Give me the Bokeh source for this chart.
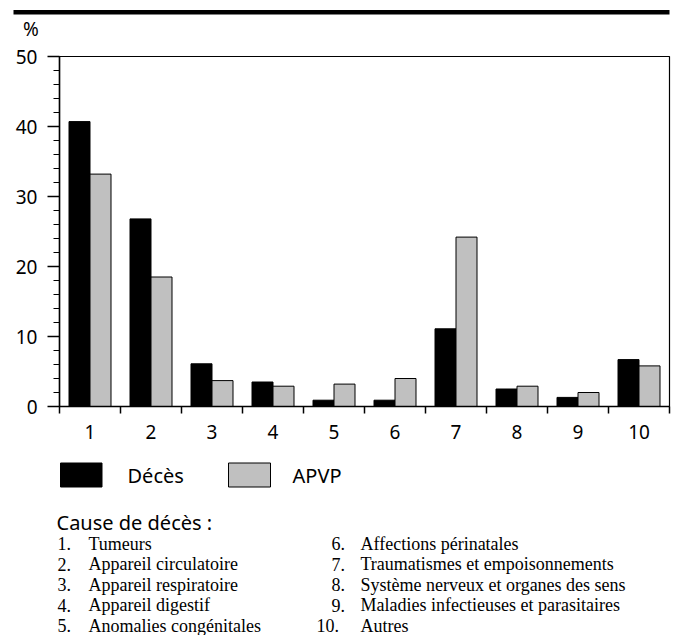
from bokeh.plotting import figure
from bokeh.models import Range1d, FixedTicker, SingleIntervalTicker, LinearAxis, BoxAnnotation
from bokeh.core.properties import value
from bokeh.embed import file_html
from bokeh.resources import INLINE

# ---- data ----
categories = [1, 2, 3, 4, 5, 6, 7, 8, 9, 10]
deces = [40.7, 26.8, 6.1, 3.5, 0.9, 0.9, 11.1, 2.5, 1.3, 6.7]
apvp = [33.2, 18.5, 3.7, 2.9, 3.2, 4.0, 24.2, 2.9, 2.0, 5.8]
series_names = ["Décès", "APVP"]
series_colors = ["black", "#c0c0c0"]
unit_label = "%"
cause_title = "Cause de décès :"
causes = [
    "Tumeurs",
    "Appareil circulatoire",
    "Appareil respiratoire",
    "Appareil digestif",
    "Anomalies congénitales",
    "Affections périnatales",
    "Traumatismes et empoisonnements",
    "Système nerveux et organes des sens",
    "Maladies infectieuses et parasitaires",
    "Autres",
]

W, H = 679, 635
SANS = "Noto Sans"
SERIF = "Liberation Serif"

# plot box in page pixels
FL, FR, FT, FB = 59, 669, 56, 406
X0, X1 = categories[0] - 0.5, categories[-1] + 0.5
Y0, Y1 = 0, 50
XS = (FR - FL) / (X1 - X0)   # px per x unit
YS = (FB - FT) / (Y1 - Y0)   # px per y unit


def dx(px):
    return X0 + (px - FL) / XS


def dy(py):
    return Y0 + (FB - py) / YS


p = figure(width=W, height=H, output_backend="svg", toolbar_location=None,
           x_range=Range1d(dx(0), dx(W)), y_range=Range1d(dy(H), dy(0)),
           min_border=0, x_axis_type=None, y_axis_type=None)
p.background_fill_color = "white"
p.border_fill_color = "white"
p.outline_line_color = None
p.grid.visible = False

# plot box (top and right edges)
p.add_layout(BoxAnnotation(left=X0, right=X1, bottom=Y0, top=Y1,
                           fill_alpha=0, line_color="black", line_alpha=1,
                           line_width=1.2))

yaxis = LinearAxis(ticker=SingleIntervalTicker(interval=10, num_minor_ticks=5),
                   fixed_location=X0, bounds=(Y0, Y1))
yaxis.major_tick_out = 12
yaxis.major_tick_in = 0
yaxis.minor_tick_out = 6
yaxis.minor_tick_in = 0
yaxis.axis_line_width = 1.5
yaxis.major_tick_line_width = 1.5
yaxis.minor_tick_line_width = 1.2
yaxis.major_label_standoff = 10
yaxis.major_label_text_font = SANS
yaxis.major_label_text_font_size = "19px"
yaxis.major_label_text_color = "black"
p.add_layout(yaxis, "left")

xaxis = LinearAxis(ticker=FixedTicker(
    ticks=categories,
    minor_ticks=[c - 0.5 for c in categories] + [categories[-1] + 0.5]),
    fixed_location=Y0, bounds=(X0, X1))
xaxis.major_tick_out = 0
xaxis.major_tick_in = 0
xaxis.major_tick_line_color = None
xaxis.minor_tick_out = 7
xaxis.minor_tick_in = 0
xaxis.minor_tick_line_width = 1.5
xaxis.axis_line_width = 1.5
xaxis.major_label_standoff = 11
xaxis.major_label_text_font = SANS
xaxis.major_label_text_font_size = "19px"
xaxis.major_label_text_color = "black"
p.add_layout(xaxis, "below")

bw = 21.0 / 61.0
p.vbar(x=[c - bw / 2 for c in categories], top=deces, width=bw,
       fill_color=series_colors[0], line_color="black", line_width=1)
p.vbar(x=[c + bw / 2 for c in categories], top=apvp, width=bw,
       fill_color=series_colors[1], line_color="black", line_width=1)

# header rule and unit
p.quad(left=[dx(13)], right=[dx(669)], top=[dy(9.5)], bottom=[dy(14)],
       fill_color="black", line_color=None)
p.text(x=[dx(30.5)], y=[dy(28.5)], text=[unit_label], text_align="center",
       text_baseline="middle", text_font=value(SANS), text_font_size="19px",
       text_color="black")

# legend
p.quad(left=[dx(60), dx(228)], right=[dx(101.5), dx(270)],
       top=[dy(462.5)] * 2, bottom=[dy(486.5)] * 2,
       fill_color=series_colors, line_color="black", line_width=1)
p.text(x=[dx(127), dx(292)], y=[dy(475)] * 2, text=series_names,
       text_align="left", text_baseline="middle", text_font=value(SANS),
       text_font_size="20px", text_color="black")

# cause list
p.text(x=[dx(56)], y=[dy(522)], text=[cause_title], text_align="left",
       text_baseline="alphabetic", text_font=value(SANS),
       text_font_size="20px", text_color="black")
row_base = [543, 563.5, 584, 604.5, 625]
num_x, num_y, num_t, txt_x = [], [], [], []
for i, name in enumerate(causes):
    col, row = divmod(i, 5)
    num_t.append(f"{i + 1}.")
    num_y.append(dy(row_base[row]))
    num_x.append(dx(57 if col == 0 else (316 if i == 9 else 331)))
    txt_x.append(dx(88 if col == 0 else 360))
p.text(x=num_x, y=num_y, text=num_t, text_align="left",
       text_baseline="alphabetic", text_font=value(SERIF),
       text_font_size="18px", text_color="black")
p.text(x=txt_x, y=num_y, text=causes, text_align="left",
       text_baseline="alphabetic", text_font=value(SERIF),
       text_font_size="18px", text_color="black")

open("out.html", "w").write(file_html(p, INLINE))
